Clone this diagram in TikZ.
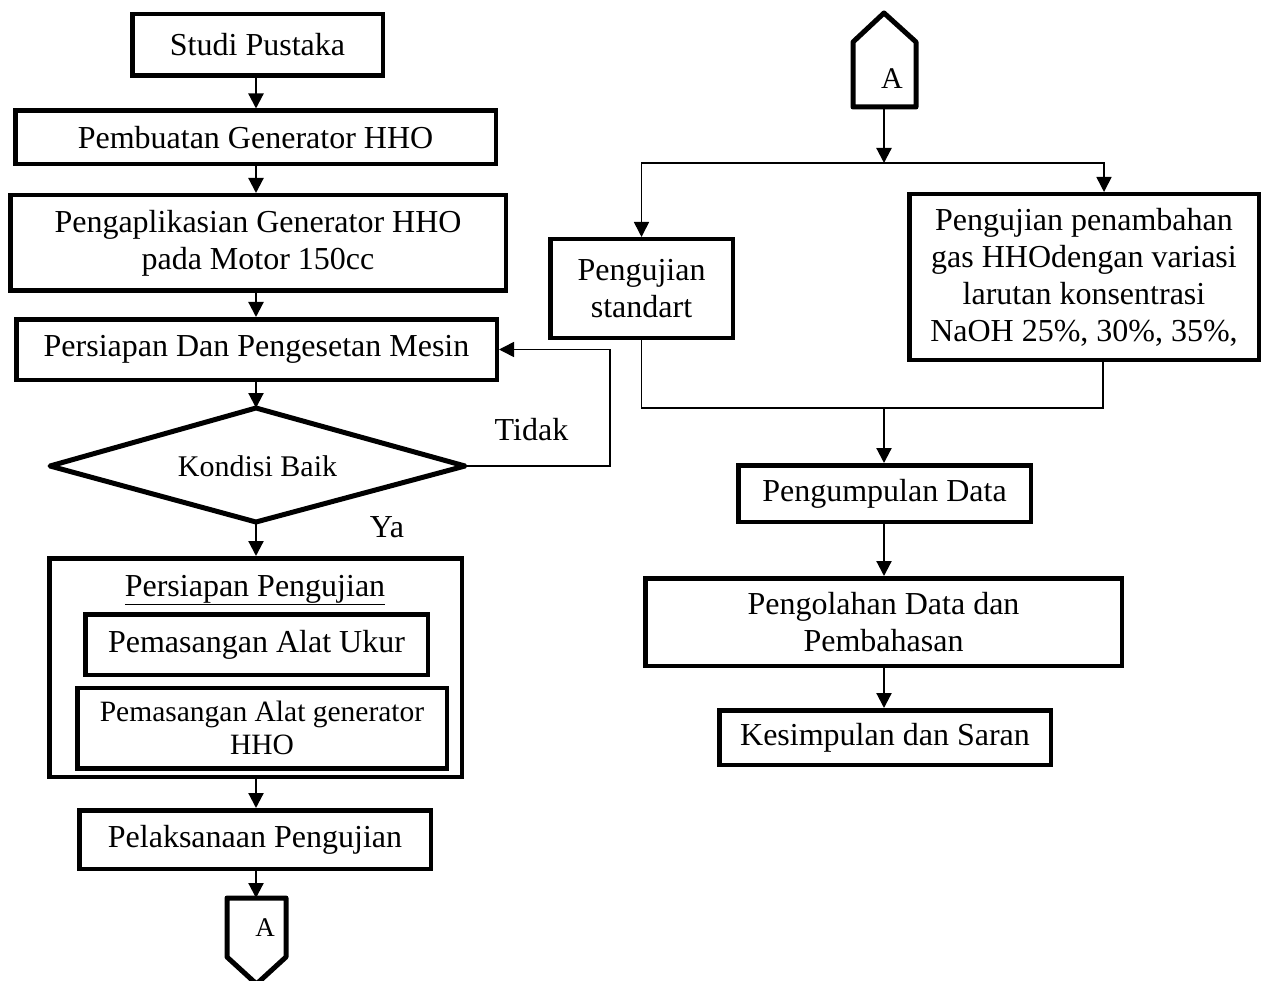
\documentclass[tikz,border=0pt]{standalone}
\usepackage{fontspec}
\setmainfont{Liberation Serif}
\usetikzlibrary{arrows.meta,shapes.geometric}
\begin{document}
\begin{tikzpicture}[x=1pt,y=-1pt,
 box/.style={draw, line width=4.5pt, rectangle, inner sep=0pt, align=center, font=\fontsize{32}{37}\selectfont},
 lbl/.style={inner sep=0pt, font=\fontsize{32}{37}\selectfont},
 arr/.style={line width=2.2pt, -{Triangle[length=15pt,width=15pt]}},
 thin/.style={line width=1.6pt},
 con/.style={line width=5pt, line join=round}]
\useasboundingbox (0,0) rectangle (1265,981);
\fill[white] (0,0) rectangle (1265,981);

% left column
\node[box, minimum width=250.5, minimum height=61.5] (studi) at (257.5,45) {Studi Pustaka};
\node[box, minimum width=480.5, minimum height=53.5] (pemb) at (255.5,137.5) {Pembuatan Generator HHO};
\node[box, minimum width=495.5, minimum height=95.5] (aplik) at (258,243) {Pengaplikasian Generator HHO\\pada Motor 150cc};
\node[box, minimum width=480.5, minimum height=60.5] (siap) at (256.5,349.5) {Persiapan Dan Pengesetan Mesin};

% decision diamond
\draw[line width=5pt, line join=round] (50,466) -- (256,408) -- (465,466) -- (256,522) -- cycle;
\node[lbl, font=\fontsize{30}{33}\selectfont] (dia) at (257.5,466) {Kondisi Baik};
\coordinate (dtop) at (256,408);
\coordinate (dbot) at (256,522);
\coordinate (deast) at (465,466);

\node[box, minimum width=412.5, minimum height=218.5] (outer) at (255.5,667.5) {};
\node[lbl] (title) at (255,590) {\underline{Persiapan Pengujian}};
\node[box, minimum width=342.5, minimum height=60.5] (ukur) at (256.5,644.5) {Pemasangan Alat Ukur};
\node[box, minimum width=369.5, minimum height=80.5, font=\fontsize{29.5}{33}\selectfont] (gen) at (262,728) {Pemasangan Alat generator\\HHO};
\node[box, minimum width=351.5, minimum height=58.5] (pelak) at (255,839.5) {Pelaksanaan Pengujian};

% off-page connector (bottom)
\draw[con] (227,898) -- (286,898) -- (286,957) -- (256.5,984) -- (227,957) -- cycle;
\coordinate (Abot) at (256,898);
\node[lbl, font=\fontsize{27}{30}\selectfont] (Ab) at (265,928) {A};

\node[lbl] (tidak) at (531.5,430) {Tidak};
\node[lbl] (ya) at (387,527) {Ya};

\draw[arr] (dtop |- studi.south) -- (dtop |- pemb.north);
\draw[arr] (dtop |- pemb.south) -- (dtop |- aplik.north);
\draw[arr] (dtop |- aplik.south) -- (dtop |- siap.north);
\draw[arr] (dtop |- siap.south) -- (dtop);
\draw[arr] (dbot) -- (dbot |- outer.north);
\draw[arr] (dbot |- outer.south) -- (dbot |- pelak.north);
\draw[arr] (dbot |- pelak.south) -- (Abot);
\coordinate (ret) at (610,466);
\draw[thin, -{Triangle[length=15pt,width=15pt]}] (deast) -- (ret) |- (siap.east);

% right column
\draw[con] (853,107) -- (853,42) -- (884,13) -- (916,42) -- (916,107) -- cycle;
\coordinate (Atop) at (884,107);
\node[lbl, font=\fontsize{30}{33}\selectfont] (At) at (892,79) {A};

\node[box, minimum width=182.5, minimum height=98.5] (std) at (641.5,288.5) {Pengujian\\standart};
\node[box, minimum width=349.5, minimum height=165.5] (rb) at (1084,277) {Pengujian penambahan\\gas HHOdengan variasi\\larutan konsentrasi\\NaOH 25\%, 30\%, 35\%,};
\node[box, minimum width=292.5, minimum height=56.5] (peng) at (884.5,493.5) {Pengumpulan Data};
\node[box, minimum width=476.5, minimum height=87.5] (olah) at (883.5,622) {Pengolahan Data dan\\Pembahasan};
\node[box, minimum width=331.5, minimum height=54.5] (kes) at (885,737.5) {Kesimpulan dan Saran};

\coordinate (branch) at (884,163);
\coordinate (join) at (884,408);
\draw[arr] (Atop) -- (branch);
\draw[thin, -{Triangle[length=15pt,width=15pt]}] (branch) -| (std.north);
\draw[thin, -{Triangle[length=15pt,width=15pt]}] (branch) -| ([xshift=20pt]rb.north);
\draw[thin] (std.south) |- (join);
\draw[thin] ([xshift=19pt]rb.south) |- (join);
\draw[arr] (join) -- (join |- peng.north);
\draw[arr] (join |- peng.south) -- (join |- olah.north);
\draw[arr] (join |- olah.south) -- (join |- kes.north);
\end{tikzpicture}
\end{document}
